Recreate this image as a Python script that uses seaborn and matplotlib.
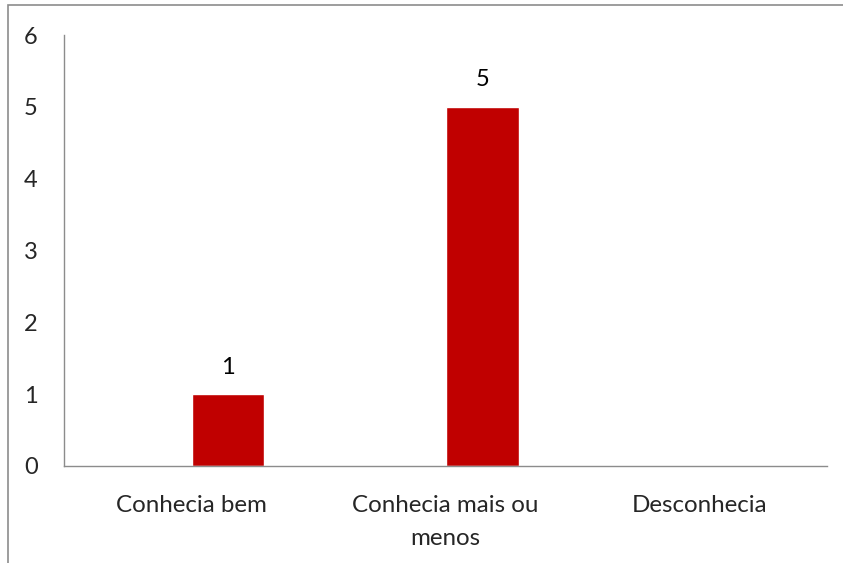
import matplotlib
matplotlib.use("Agg")
import matplotlib.pyplot as plt
import seaborn as sns
import pandas as pd
from matplotlib.patches import Rectangle

categories = ["Conhecia bem", "Conhecia mais ou\nmenos", "Desconhecia"]
values = [1, 5, 0]
y_ticks = [0, 1, 2, 3, 4, 5, 6]

df = pd.DataFrame({"categoria": categories, "valor": values})

sns.set_style("white")
plt.rcParams["font.family"] = ["Lato", "DejaVu Sans"]

fig = plt.figure(figsize=(8.43, 5.63), dpi=100)
fig.patches.append(Rectangle((8 / 843, -0.1), 1.2, 1.1 - 5 / 563, transform=fig.transFigure,
                             fill=False, edgecolor="#8c8c8c", linewidth=1.2))
ax = fig.add_axes([64 / 843, 1 - 466 / 563, (827 - 64) / 843, (466 - 35) / 563])

sns.barplot(data=df, x="categoria", y="valor", color="#C00000", width=0.286,
            saturation=1, ax=ax)

# Excel leaves the bars right of the category centre (empty second series slot)
shift = 0.145
for p in ax.patches:
    p.set_x(p.get_x() + shift)

for i, v in enumerate(values):
    if v > 0:
        ax.annotate(str(v), (i + shift, v), xytext=(0, 12), textcoords="offset points",
                    ha="center", va="bottom", fontsize=17, color="black")

ax.set_xlim(-0.5, len(categories) - 0.5)
ax.set_ylim(0, 6)
ax.set_yticks(y_ticks)
ax.set_xlabel("")
ax.set_ylabel("")

ax.set_xticks([-0.5, 0.5, 1.5, 2.5], minor=True)
ax.tick_params(axis="x", which="major", length=0, pad=21, labelsize=17.4)
ax.tick_params(axis="x", which="minor", length=5, width=1, color="#8c8c8c", direction="out")
ax.tick_params(axis="y", length=5, width=1, color="#8c8c8c", direction="out", pad=14, labelsize=17)
for lab in ax.get_xticklabels():
    lab.set_linespacing(1.7)

sns.despine(ax=ax)
for s in ["left", "bottom"]:
    ax.spines[s].set_color("#8c8c8c")
    ax.spines[s].set_linewidth(1)

fig.savefig("out.png", dpi=100)
